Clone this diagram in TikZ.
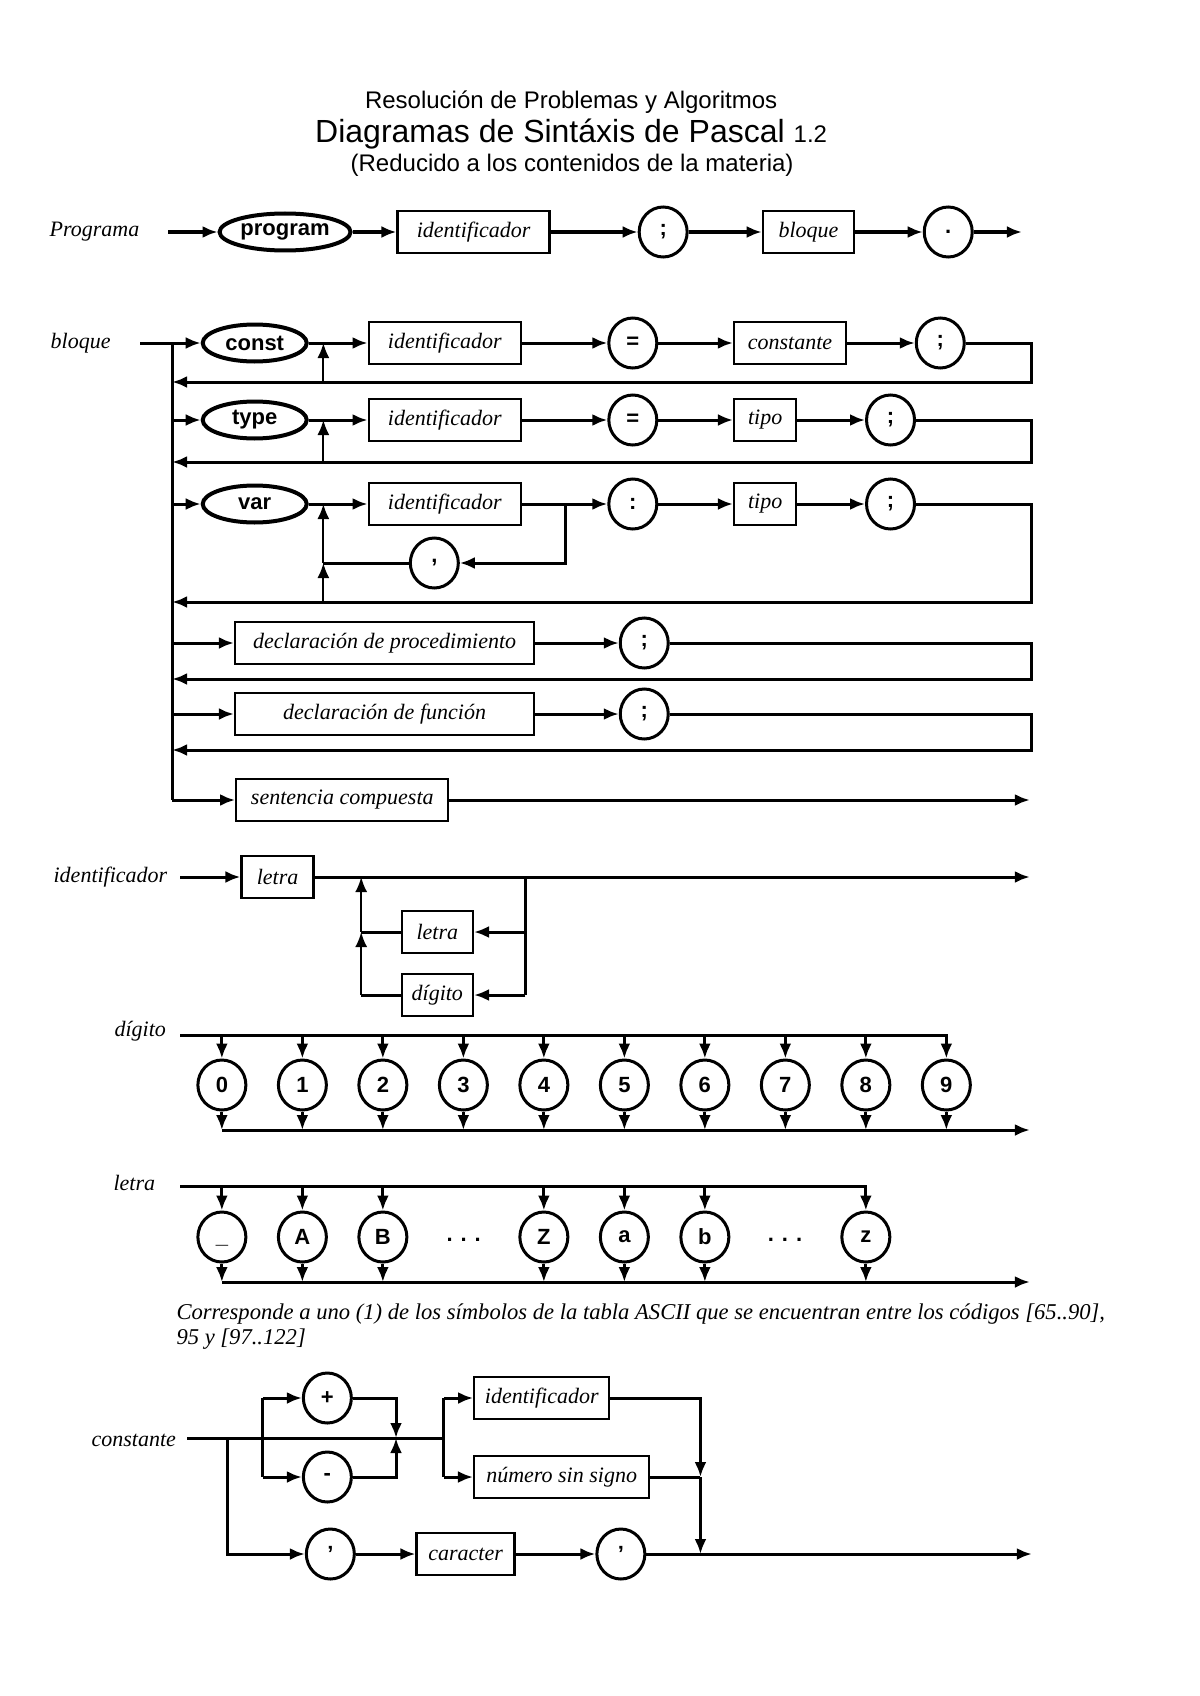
\documentclass[tikz,border=0pt]{standalone}
\usepackage{fontspec}
\setmainfont{Liberation Serif}
\setsansfont{Liberation Sans}
\usetikzlibrary{arrows.meta,shapes.geometric}
\newcommand\tam{\fontsize{11}{13}\selectfont}
\tikzset{
  caja/.style={draw,line width=1.2pt,minimum height=21pt,inner sep=2pt,font=\tam\itshape},
  palabra/.style={draw,ellipse,line width=2pt,minimum height=18.5pt,inner sep=0pt,font=\tam\sffamily\bfseries},
  simbolo/.style={draw,ellipse,line width=1.5pt,minimum width=24pt,minimum height=25pt,inner sep=0pt,font=\tam\sffamily\bfseries},
  rotulo/.style={font=\tam\itshape},
  grueso/.style={line width=2pt},
  flujo/.style={line width=1.5pt},
  fino/.style={line width=1pt},
}
\begin{document}
\begin{tikzpicture}[x=0.4975pt,y=-0.5pt,>={Latex[length=7.5pt,width=6pt]}]
\useasboundingbox (0,0) rectangle (1206,1696);
% titulo
\node[font=\sffamily\fontsize{12}{14}\selectfont] (tit1) at (574,102) {Resolución de Problemas y Algoritmos};
\node[font=\sffamily\fontsize{16}{18}\selectfont] (tit2) at (574,134) {Diagramas de Sintáxis de Pascal {\fontsize{12}{14}\selectfont 1.2}};
\node[font=\sffamily\fontsize{12}{14}\selectfont] (tit3) at (575,165) {(Reducido a los contenidos de la materia)};

% Programa
\node[rotulo] (lprog) at (95,232) {Programa};
\coordinate (p0) at (169,232);
\node[palabra,minimum width=65.5pt] (kprog) at (286.5,232) {program};
\node[caja,minimum width=76pt] (pid) at (476,232) {identificador};
\node[simbolo] (psemi) at (666.5,232) {;};
\node[caja,minimum width=45.5pt] (pblq) at (812.5,232) {bloque};
\node[simbolo] (ppto) at (953,232) {.};
\coordinate (p1) at (1027,232);
\foreach \a/\b in {p0/kprog,kprog/pid,pid/psemi,psemi/pblq,pblq/ppto,ppto/p1}
{
    \draw[grueso,->] (\a) -- (\b);
}

% bloque
\node[rotulo] (lblq) at (81,343) {bloque};
\coordinate (b0) at (141,343);
\coordinate (t0) at (173,343);
\coordinate (t1) at (173,800);
\draw[flujo] (t0) -- (t1);
% const
\node[palabra,minimum width=52pt] (kconst) at (256,343) {const};
\node[caja,minimum width=76pt] (cid) at (447,343) {identificador};
\node[simbolo] (cigual) at (636,343) {=};
\node[caja,minimum width=56pt] (ccte) at (794,343) {constante};
\node[simbolo] (csemi) at (945,343) {;};
\coordinate (cr) at (1037,382);
\coordinate (cl) at (173,382);
\coordinate (cu) at (325,382);
\foreach \a/\b in {b0/kconst,kconst/cid,cid/cigual,cigual/ccte,ccte/csemi}
{
    \draw[flujo,->] (\a) -- (\b);
}
\draw[flujo,->] (csemi) -| (cr) -- (cl);
\draw[fino,->] (cu) -- (cu |- kconst);
% type
\node[palabra,minimum width=52pt] (ktype) at (256,420) {type};
\node[caja,minimum width=76pt] (tid) at (447,420) {identificador};
\node[simbolo] (tigual) at (636,420) {=};
\node[caja,minimum width=31pt] (ttipo) at (769,420) {tipo};
\node[simbolo] (tsemi) at (895,420) {;};
\coordinate (tr) at (1037,462);
\coordinate (tl) at (173,462);
\coordinate (tu) at (325,462);
\draw[flujo,->] (ktype -| t0) -- (ktype);
\foreach \a/\b in {ktype/tid,tid/tigual,tigual/ttipo,ttipo/tsemi}
{
    \draw[flujo,->] (\a) -- (\b);
}
\draw[flujo,->] (tsemi) -| (tr) -- (tl);
\draw[fino,->] (tu) -- (tu |- ktype);
% var
\node[palabra,minimum width=52pt] (kvar) at (256,504) {var};
\node[caja,minimum width=76pt] (vid) at (447,504) {identificador};
\node[simbolo] (vdos) at (636,504) {:};
\node[caja,minimum width=31pt] (vtipo) at (769,504) {tipo};
\node[simbolo] (vsemi) at (895,504) {;};
\node[simbolo] (vcoma) at (436.5,563) {,};
\coordinate (vb) at (568,504);
\coordinate (vr) at (1037,602);
\coordinate (vl) at (173,602);
\coordinate (vu) at (325,602);
\draw[flujo,->] (kvar -| t0) -- (kvar);
\foreach \a/\b in {kvar/vid,vid/vdos,vdos/vtipo,vtipo/vsemi}
{
    \draw[flujo,->] (\a) -- (\b);
}
\draw[flujo,->] (vsemi) -| (vr) -- (vl);
\draw[flujo,->] (vb) |- (vcoma);
\draw[flujo] (vcoma) -- (vcoma -| vu);
\draw[fino,->] (vu) -- (vu |- vcoma);
\draw[fino,->] (vu |- vcoma) -- (vu |- kvar);
% procedimiento y funcion
\node[caja,minimum width=149.5pt] (dproc) at (386.5,643) {declaración de procedimiento};
\node[simbolo] (dpsemi) at (647.5,643) {;};
\node[caja,minimum width=149.5pt] (dfunc) at (386.5,714) {declaración de función};
\node[simbolo] (dfsemi) at (647.5,714) {;};
\coordinate (pr) at (1037,679);
\coordinate (pl) at (173,679);
\coordinate (fr) at (1037,750);
\coordinate (fl) at (173,750);
\draw[flujo,->] (dproc -| t0) -- (dproc);
\draw[flujo,->] (dproc) -- (dpsemi);
\draw[flujo,->] (dpsemi) -| (pr) -- (pl);
\draw[flujo,->] (dfunc -| t0) -- (dfunc);
\draw[flujo,->] (dfunc) -- (dfsemi);
\draw[flujo,->] (dfsemi) -| (fr) -- (fl);
% sentencia
\node[caja,minimum width=106pt] (sent) at (344,800) {sentencia compuesta};
\coordinate (sfin) at (1035,800);
\draw[flujo,->] (t1) -- (sent);
\draw[flujo,->] (sent) -- (sfin);

% identificador
\node[rotulo] (lid) at (111,877) {identificador};
\coordinate (i0) at (181,877);
\node[caja,minimum width=36pt] (iletra) at (279,877) {letra};
\coordinate (i1) at (1035,877);
\node[caja,minimum width=35.5pt] (iletra2) at (439.5,932) {letra};
\node[caja,minimum width=35.5pt] (idig) at (439.5,995) {dígito};
\coordinate (ib) at (528,877);
\coordinate (iu) at (363,995);
\draw[flujo,->] (i0) -- (iletra);
\draw[flujo,->] (iletra) -- (i1);
\draw[flujo] (ib) -- (ib |- idig);
\draw[flujo,->] (ib |- iletra2) -- (iletra2);
\draw[flujo,->] (ib |- idig) -- (idig);
\draw[flujo] (iletra2) -- (iletra2 -| iu);
\draw[flujo] (idig) -- (iu);
\draw[fino,->] (iu) -- (iu |- iletra2);
\draw[fino,->] (iu |- iletra2) -- (iu |- iletra);

% digito
\node[rotulo] (ldig) at (141,1031) {dígito};
\coordinate (dini) at (181,1035);
\coordinate (dfin) at (1035,1130);
\foreach \n in {0,...,9}
{
    \node[simbolo] (d\n) at (223+80.9*\n,1085) {\n};
}
\draw[flujo,->] (dini) -| (d9);
\foreach \n in {0,...,8}
{
    \draw[flujo,->] (d\n |- dini) -- (d\n);
}
\foreach \n in {0,...,9}
{
    \draw[flujo,->] (d\n) -- (d\n |- dfin);
}
\draw[flujo,->] (d0 |- dfin) -- (dfin);

% letra
\node[rotulo] (llet) at (135,1183) {letra};
\coordinate (lini) at (181,1186);
\coordinate (lfin) at (1035,1282);
\foreach \i/\s/\nm in {0/\vphantom{A}\_/lsub,1/A/lA,2/B/lB,4/Z/lZ,5/a/la,6/b/lb,8/z/lz}
{
    \node[simbolo] (\nm) at (223+80.9*\i,1237) {\s};
}
\node[font=\tam\sffamily\bfseries,anchor=base] (lpts1) at (466,1241) {.\hspace{4pt}.\hspace{4pt}.};
\node[font=\tam\sffamily\bfseries,anchor=base] (lpts2) at (789,1241) {.\hspace{4pt}.\hspace{4pt}.};
\draw[flujo,->] (lini) -| (lz);
\foreach \nm in {lsub,lA,lB,lZ,la,lb}
{
    \draw[flujo,->] (\nm |- lini) -- (\nm);
}
\foreach \nm in {lsub,lA,lB,lZ,la,lb,lz}
{
    \draw[flujo,->] (\nm) -- (\nm |- lfin);
}
\draw[flujo,->] (lsub |- lfin) -- (lfin);
\node[font=\fontsize{11.3}{12.5}\selectfont\itshape,anchor=north west,align=left,inner sep=0pt] (nota) at (177,1303)
  {Corresponde a uno (1) de los símbolos de la tabla ASCII que se encuentran entre los códigos [65..90],\\95 y [97..122]};

% constante
\node[rotulo] (lcte) at (134.5,1440) {constante};
\coordinate (k0) at (188,1438);
\coordinate (kb) at (229,1438);
\coordinate (ks) at (264,1438);
\coordinate (kj) at (398,1438);
\coordinate (k1) at (446,1438);
\node[simbolo] (kmas) at (329,1398) {+};
\node[simbolo] (kmenos) at (329,1477) {-};
\node[caja,minimum width=67.5pt] (kid) at (544.5,1398) {identificador};
\node[caja,minimum width=87.5pt] (knum) at (564.5,1477) {número sin signo};
\node[simbolo] (kq1) at (332,1554) {'};
\node[caja,minimum width=49pt] (kcar) at (468,1554) {caracter};
\node[simbolo] (kq2) at (624,1554) {'};
\coordinate (kv) at (704,1554);
\coordinate (kfin) at (1037,1554);
\draw[flujo] (k0) -- (k1);
\draw[flujo] (ks |- kmas) -- (ks |- kmenos);
\draw[flujo,->] (ks |- kmas) -- (kmas);
\draw[flujo,->] (ks |- kmenos) -- (kmenos);
\draw[flujo,->] (kmas) -| (kj);
\draw[flujo,->] (kmenos) -| (kj);
\draw[flujo] (k1 |- kid) -- (k1 |- knum);
\draw[flujo,->] (k1 |- kid) -- (kid);
\draw[flujo,->] (k1 |- knum) -- (knum);
\draw[flujo,->] (kid) -| (kv |- knum);
\draw[flujo] (knum) -- (kv |- knum);
\draw[flujo,->] (kv |- knum) -- (kv);
\draw[flujo,->] (kb) |- (kq1);
\draw[flujo,->] (kq1) -- (kcar);
\draw[flujo,->] (kcar) -- (kq2);
\draw[flujo,->] (kq2) -- (kfin);
\end{tikzpicture}
\end{document}
